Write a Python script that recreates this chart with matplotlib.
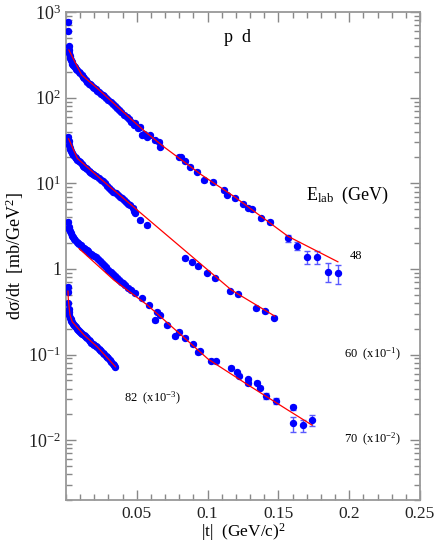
import numpy as np
import matplotlib
matplotlib.use("Agg")
import matplotlib.pyplot as plt
from matplotlib.ticker import MultipleLocator, LogLocator, NullFormatter

plt.rcParams["font.family"] = ["Liberation Serif", "DejaVu Serif"]
plt.rcParams["mathtext.default"] = "regular"

# 48 GeV (no scaling)
t_48 = [0.0015, 0.0015, 0.0018, 0.0020, 0.0022, 0.0025, 0.0030, 0.0035, 0.0040, 0.0045,
        0.0050, 0.0055, 0.0060, 0.0070, 0.0080, 0.0090, 0.0100, 0.0110, 0.0120, 0.0130,
        0.0140, 0.0150, 0.0160, 0.0170, 0.0180, 0.0190, 0.0200, 0.0210, 0.0220, 0.0235,
        0.0250, 0.0260, 0.0270, 0.0285, 0.0300, 0.0315, 0.0330, 0.0345, 0.0360, 0.0375,
        0.0390, 0.0410, 0.0430, 0.0445, 0.0460, 0.0480, 0.0490, 0.0510, 0.0525, 0.0540,
        0.0550, 0.0575, 0.0595, 0.0630, 0.0655, 0.0667, 0.0796, 0.0815, 0.0843, 0.0878,
        0.0925, 0.0972, 0.1040, 0.1118, 0.1134, 0.1192, 0.1251, 0.1287, 0.1315, 0.1380,
        0.1444, 0.1568, 0.1634, 0.1704, 0.1775, 0.1850, 0.1920]
y_48 = [770, 600, 400, 360, 330, 310, 290, 275, 262, 250,
        240, 232, 226, 215, 208, 200, 192, 185, 176, 168,
        160, 152, 146, 143, 139, 132, 128, 126, 120, 116,
        110, 106, 104, 98, 93, 89, 84, 80, 75, 72,
        68, 63, 60, 57, 52, 48, 50, 44, 46, 37,
        38, 35, 36.6, 32, 30.5, 26.7, 20.4, 20.0, 18.2, 15.6,
        13.6, 10.9, 10.4, 8.3, 7.3, 6.7, 5.8, 5.2, 4.95, 3.9,
        3.55, 2.27, 1.85, 1.38, 1.38, 0.925, 0.90]
rel_err_48 = [0.04] * 70 + [0.05, 0.10, 0.10, 0.18, 0.18, 0.25, 0.25]

# 60 GeV (x 10^-1)
t_60 = [0.0015, 0.0018, 0.0022, 0.0026, 0.0030, 0.0035, 0.0040, 0.0050, 0.0060, 0.0070,
        0.0080, 0.0090, 0.0100, 0.0110, 0.0120, 0.0130, 0.0140, 0.0150, 0.0160, 0.0170,
        0.0180, 0.0190, 0.0200, 0.0215, 0.0230, 0.0245, 0.0260, 0.0275, 0.0290, 0.0305,
        0.0320, 0.0335, 0.0350, 0.0365, 0.0380, 0.0395, 0.0410, 0.0425, 0.0440, 0.0455,
        0.0470, 0.0480, 0.0490, 0.0526, 0.0573, 0.0840, 0.0887, 0.0934, 0.0993, 0.1051,
        0.1157, 0.1216, 0.1340, 0.1404, 0.1467]
y_60 = [35, 31, 28, 26, 25, 23.5, 22.5, 21.5, 20.5, 19.5,
        18.8, 18.2, 17.8, 16.8, 16.0, 15.5, 15.0, 14.6, 14.0, 13.5,
        13.2, 12.8, 12.5, 12.0, 11.5, 11.0, 10.5, 10.0, 9.4, 8.9,
        8.4, 8.0, 7.6, 7.3, 7.0, 6.7, 6.4, 6.1, 5.8, 5.5,
        5.2, 4.7, 4.5, 3.7, 3.25, 1.33, 1.21, 1.08, 0.90, 0.776,
        0.551, 0.504, 0.346, 0.322, 0.268]
rel_err_60 = [0.04] * 55

# 70 GeV (x 10^-2)
t_70 = [0.0015, 0.0018, 0.0022, 0.0028, 0.0033, 0.0040, 0.0048, 0.0056, 0.0065, 0.0075,
        0.0085, 0.0095, 0.0105, 0.0115, 0.0125, 0.0135, 0.0145, 0.0155, 0.0165, 0.0175,
        0.0185, 0.0195, 0.0210, 0.0225, 0.0240, 0.0255, 0.0270, 0.0285, 0.0300, 0.0315,
        0.0330, 0.0345, 0.0360, 0.0375, 0.0390, 0.0405, 0.0420, 0.0440, 0.0456, 0.0490,
        0.0537, 0.0585, 0.0643, 0.0632, 0.0667, 0.0713, 0.0796, 0.0770, 0.0840, 0.0894,
        0.0946, 0.0935, 0.1023, 0.1056, 0.1164, 0.1211, 0.1220, 0.1287, 0.1287, 0.1352,
        0.1368, 0.1415, 0.1481, 0.1604, 0.1604, 0.1674, 0.1737]
y_70 = [3.55, 3.1, 2.9, 2.75, 2.6, 2.45, 2.35, 2.25, 2.15, 2.05,
        1.98, 1.93, 1.88, 1.80, 1.74, 1.70, 1.66, 1.60, 1.55, 1.50,
        1.46, 1.42, 1.38, 1.30, 1.24, 1.17, 1.11, 1.04, 0.98, 0.92,
        0.87, 0.83, 0.79, 0.75, 0.71, 0.68, 0.64, 0.60, 0.56, 0.517,
        0.452, 0.377, 0.315, 0.252, 0.288, 0.22, 0.184, 0.164, 0.158, 0.132,
        0.110, 0.107, 0.0844, 0.0837, 0.070, 0.0623, 0.0564, 0.0512, 0.046, 0.0467,
        0.0408, 0.0327, 0.0288, 0.0241, 0.0157, 0.015, 0.017]
rel_err_70 = [0.04] * 61 + [0.08, 0.08, 0.07, 0.20, 0.16, 0.15]

# 82 GeV (x 10^-3)
t_82 = [0.0013, 0.0015, 0.0017, 0.0019, 0.0021, 0.0024, 0.0028, 0.0033, 0.0038, 0.0043,
        0.0050, 0.0057, 0.0064, 0.0071, 0.0078, 0.0085, 0.0092, 0.0100, 0.0108, 0.0116,
        0.0124, 0.0132, 0.0140, 0.0150, 0.0160, 0.0170, 0.0180, 0.0190, 0.0200, 0.0210,
        0.0220, 0.0230, 0.0240, 0.0250, 0.0260, 0.0270, 0.0280, 0.0290, 0.0300, 0.0310,
        0.0320, 0.0330, 0.0340, 0.0347]
y_82 = [0.62, 0.54, 0.40, 0.34, 0.31, 0.29, 0.27, 0.258, 0.248, 0.238,
        0.228, 0.220, 0.213, 0.207, 0.201, 0.195, 0.190, 0.185, 0.180, 0.175,
        0.170, 0.165, 0.160, 0.154, 0.148, 0.143, 0.138, 0.133, 0.129, 0.125,
        0.121, 0.117, 0.113, 0.109, 0.105, 0.101, 0.097, 0.093, 0.090, 0.086,
        0.082, 0.078, 0.075, 0.072]
rel_err_82 = [0.04] * 44

# fitted curves
fit_t_48 = [0.002, 0.011, 0.022, 0.035, 0.0467, 0.0561, 0.069, 0.0958, 0.119, 0.1568, 0.192]
fit_y_48 = [360, 184, 129, 82, 54.7, 39.8, 26.7, 12.5, 6.95, 2.4, 1.21]
fit_t_60 = [0.0018, 0.0028, 0.008, 0.0254, 0.0676, 0.1169, 0.1474]
fit_y_60 = [33, 30.5, 19.5, 10.9, 2.78, 0.565, 0.281]
fit_t_70 = [0.0092, 0.0338, 0.0573, 0.0808, 0.1005, 0.1287, 0.1568, 0.1737]
fit_y_70 = [1.73, 0.74, 0.38, 0.172, 0.088, 0.044, 0.0224, 0.015]
fit_t_82 = [0.0014, 0.0016, 0.0019, 0.0028, 0.0044, 0.0127, 0.022, 0.035]
fit_y_82 = [0.55, 0.45, 0.395, 0.29, 0.241, 0.169, 0.123, 0.0718]

fig = plt.figure(figsize=(4.36, 5.43), dpi=100)
ax = fig.add_axes([0.1514, 0.0792, 0.8119, 0.8987])

series = [(t_48, y_48, rel_err_48), (t_60, y_60, rel_err_60),
          (t_70, y_70, rel_err_70), (t_82, y_82, rel_err_82)]
for t, y, rel in series:
    y = np.array(y)
    ax.errorbar(t, y, yerr=y * np.array(rel), fmt="o", ms=4.3, color="#0000ff",
                ecolor="#5a5aff", elinewidth=1.0, capsize=2.5, capthick=1.0, zorder=3)

for ft, fy in [(fit_t_48, fit_y_48), (fit_t_60, fit_y_60),
               (fit_t_70, fit_y_70), (fit_t_82, fit_y_82)]:
    ax.plot(ft, fy, color="#ff0000", lw=0.9, zorder=4)

ax.set_yscale("log")
ax.set_xlim(0, 0.25)
ax.set_ylim(2e-3, 1e3)

ax.xaxis.set_major_locator(MultipleLocator(0.05))
ax.xaxis.set_minor_locator(MultipleLocator(0.01))
ax.set_xticks([0.05, 0.1, 0.15, 0.2, 0.25])
ax.set_xticklabels(["0.05", "0.1", "0.15", "0.2", "0.25"])
ax.set_yticks([1e-2, 1e-1, 1, 1e1, 1e2, 1e3])
ax.set_yticklabels([r"$10^{-2}$", r"$10^{-1}$", "1", r"$10^{1}$", r"$10^{2}$", r"$10^{3}$"])
ax.yaxis.set_minor_locator(LogLocator(base=10, subs=np.arange(2, 10)))
ax.yaxis.set_minor_formatter(NullFormatter())

ax.tick_params(which="both", direction="in", top=True, right=True, colors="#888888",
               labelcolor="#222222", labelsize=13, width=1.0)
ax.tick_params(which="major", length=7)
ax.tick_params(which="minor", length=4)
ax.tick_params(axis="x", pad=4, labelsize=12.5)
for s in ax.spines.values():
    s.set_color("#999999")
    s.set_linewidth(1.3)

ax.set_xlabel(r"|t|  (GeV/c)$^{2}$", fontsize=12.5, labelpad=0)
ax.set_ylabel(r"dσ/dt  [mb/GeV$^{2}$]", fontsize=13, labelpad=2)

ax.text(0.1211, 510, "p  d", fontsize=13, ha="center", va="center")
ax.text(0.1986, 7.28, r"E$_{lab}$  (GeV)", fontsize=13, ha="center", va="center")
ax.text(0.205, 1.41, "48", fontsize=9, ha="center", va="center")
ax.text(0.2162, 0.101, r"60  (x10$^{-1}$)", fontsize=9, ha="center", va="center")
ax.text(0.2162, 0.0103, r"70  (x10$^{-2}$)", fontsize=9, ha="center", va="center")
ax.text(0.0613, 0.031, r"82  (x10$^{-3}$)", fontsize=9, ha="center", va="center")

fig.savefig("out.png", dpi=100)
